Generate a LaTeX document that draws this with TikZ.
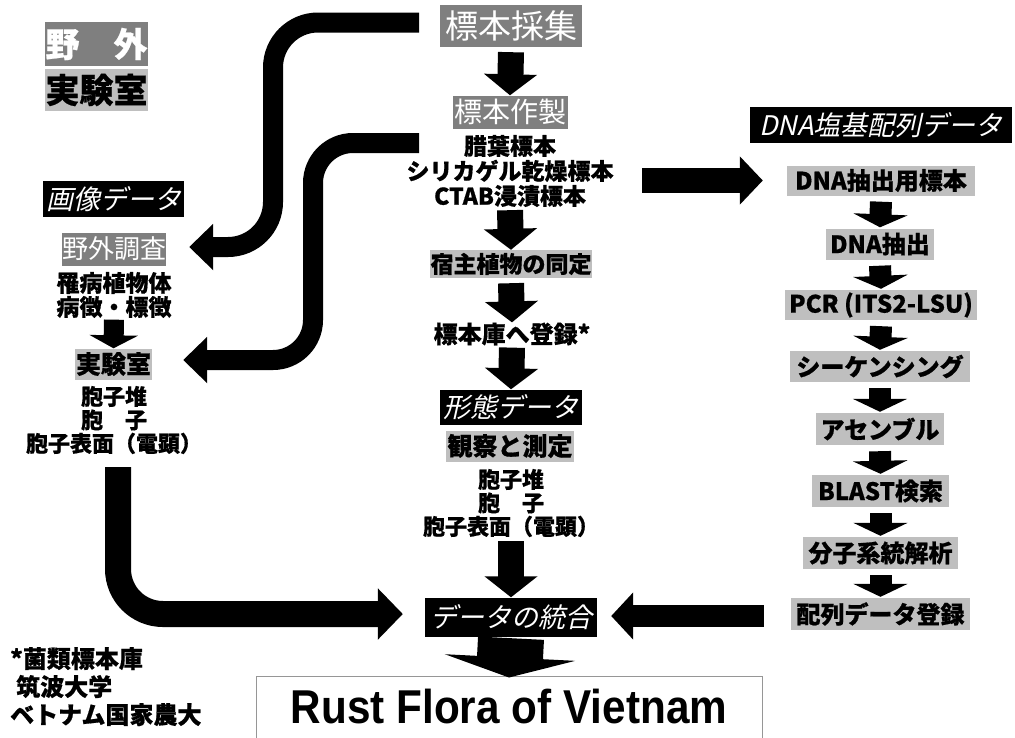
\documentclass[tikz,border=0pt]{standalone}
\usepackage{fontspec}
\usetikzlibrary{arrows.meta}
\newfontfamily\jp{Noto Sans CJK JP}[BoldFeatures={FakeBold=0.6}]
\newfontfamily\jpit{Noto Sans CJK JP}[FakeSlant=0.22]
\newfontfamily\rustf{Liberation Sans}[FakeStretch=0.89]
\definecolor{dg}{RGB}{127,127,127}
\definecolor{lg}{RGB}{191,191,191}
\definecolor{rustframe}{RGB}{150,150,150}
\newcommand\fsz[2]{\fontsize{#1}{#2}\selectfont}
\begin{document}
\begin{tikzpicture}[x=1pt,y=-1pt,
  lgbox/.style n args={3}{fill=lg, inner sep=0pt, minimum width=#1pt, minimum height=#2pt, font=\jp\bfseries\fsz{#3}{#3}},
  dgbox/.style n args={3}{fill=dg, text=white, inner sep=0pt, minimum width=#1pt, minimum height=#2pt, font=\jp\fsz{#3}{#3}},
  blbox/.style n args={3}{fill=black, text=white, inner sep=0pt, minimum width=#1pt, minimum height=#2pt, font=\jpit\fsz{#3}{#3}},
  plain/.style n args={2}{inner sep=0pt, align=center, font=\jp\bfseries\fsz{#1}{#2}},
  cdown/.style={line width=26pt, -{Triangle[width=52pt,length=21pt]}},
  rdown/.style={line width=22pt, -{Triangle[width=54pt,length=13pt]}},
  ldown/.style={line width=20pt, -{Triangle[width=48pt,length=13pt]}},
  curveA/.style={line width=20pt, -{Triangle[width=45pt,length=24pt]}},
  curveB/.style={line width=26pt, -{Triangle[width=50pt,length=25pt]}},
  bigr/.style={line width=25pt, -{Triangle[width=47pt,length=23pt]}},
  bigl/.style={line width=22pt, -{Triangle[width=46pt,length=22pt]}},
  bigdown/.style={line width=66pt, -{Triangle[width=130pt,length=20pt]}}
]
\useasboundingbox (0,0) rectangle (1015,737);

% legend
\node[dgbox={103}{44}{34}, font=\jp\bfseries\fsz{34}{34}] (legf) at (96.5,44) {野　外};
\node[lgbox={103}{42}{34}] (legl) at (96.5,90) {実験室};

% centre column
\node[dgbox={142}{42}{33}] (caiji) at (511,26) {標本採集};
\node[dgbox={115}{33}{28}] (zuozhi) at (510,112) {標本作製};
\node[plain={23}{25}] (spec) at (510,171) {腊葉標本\\シリカゲル乾燥標本\\CTAB浸漬標本};
\node[lgbox={162}{28}{23}] (shuku) at (511,264) {宿主植物の同定};
\node[plain={24}{24}] (hyo) at (512,334) {標本庫へ登録*};
\node[blbox={142}{35}{27}] (keitai) at (511,407) {形態データ};
\node[lgbox={128}{31}{25}] (kansatsu) at (510,446) {観察と測定};
\node[plain={22}{23.5}] (sporec) at (511,503) {胞子堆\\胞　子\\胞子表面（電顕）};
\node[blbox={172}{39}{27}] (tougou) at (511,617) {データの統合};
\node[draw=rustframe, line width=1pt, inner sep=0pt, minimum width=506pt, minimum height=62pt, font=\rustf\bfseries\fsz{47.5}{47.5}] (rust) at (509,707) {Rust Flora of Vietnam};

% left column
\node[blbox={141}{36}{27}] (gazou) at (113.5,199) {画像データ};
\node[dgbox={104}{33}{26}] (yagai) at (114,249) {野外調査};
\node[plain={23}{24}] (lb1) at (114,295) {罹病植物体\\病徴・標徴};
\node[lgbox={77}{31}{25}] (jikken) at (113.5,364) {実験室};
\node[plain={22}{23.5}] (sporel) at (114,420) {胞子堆\\胞　子\\胞子表面（電顕）};

% right column
\node[blbox={262}{36}{27}] (dnat) at (881,125) {DNA塩基配列データ};
\node[lgbox={188}{30}{24}] (d1) at (881,180.5) {DNA抽出用標本};
\node[lgbox={108}{31}{24}] (d2) at (880,244) {DNA抽出};
\node[lgbox={192}{30}{24}] (d3) at (881,305) {PCR (ITS2-LSU)};
\node[lgbox={180}{31}{24}] (d4) at (880,366.5) {シーケンシング};
\node[lgbox={128}{32}{24}] (d5) at (880,429) {アセンブル};
\node[lgbox={137}{32}{24}] (d6) at (880.5,491) {BLAST検索};
\node[lgbox={155}{32}{24}] (d7) at (880.5,553) {分子系統解析};
\node[lgbox={179}{32}{24}] (d8) at (880.5,614) {配列データ登録};

% footnote
\node[inner sep=0pt, align=left, anchor=north west, font=\jp\bfseries\fsz{24}{28}] (foot) at (10,647) {*菌類標本庫\\\hspace{6pt}筑波大学\\ベトナム国家農大};

% straight arrows
\draw[cdown] ([yshift=-5pt]caiji.south) -- (zuozhi.north);
\draw[cdown] ([yshift=-3pt]spec.south) -- (shuku.north);
\draw[cdown] ([yshift=-5pt]shuku.south) -- (hyo.north);
\draw[cdown] ([yshift=-2pt]hyo.south) -- (keitai.north);
\draw[cdown] ([yshift=-4pt]sporec.south) -- (tougou.north);
\draw[bigdown] ([yshift=-1.5pt]tougou.south) -- ([yshift=-2pt]rust.north);
\foreach \a/\b in {d1/d2,d2/d3,d3/d4,d4/d5,d5/d6,d6/d7,d7/d8}
  \draw[rdown] ([yshift=-6pt]\a.south) -- ([yshift=1pt]\b.north);
\draw[ldown] ([yshift=-1.5pt]lb1.south) -- (jikken.north);

\coordinate (r1s) at (642,180.5);
\draw[bigr] (r1s) -- ([xshift=-24pt]d1.west);
\draw[bigl] ([xshift=-27pt,yshift=-2pt]d8.west) coordinate (bls) -- ([xshift=14pt]tougou.east |- bls);

% curved arrows
\coordinate (c1s) at (419,22.5);
\draw[curveA] (c1s) [rounded corners=45pt] -- ++(-146,0) -- ++(0,224.5) [rounded corners=30pt] -- ([xshift=23pt,yshift=2pt]yagai.east);
\coordinate (c2s) at (419,143);
\draw[curveA] (c2s) [rounded corners=40pt] -- ++(-106,0) -- ++(0,217) [rounded corners=35pt] -- ([xshift=31pt,yshift=4pt]jikken.east);
\coordinate (c3s) at (118,467);
\draw[curveB] (c3s) [rounded corners=45pt] -- ++(0,147) -- ([xshift=-22pt,yshift=3pt]tougou.west);
\end{tikzpicture}
\end{document}
